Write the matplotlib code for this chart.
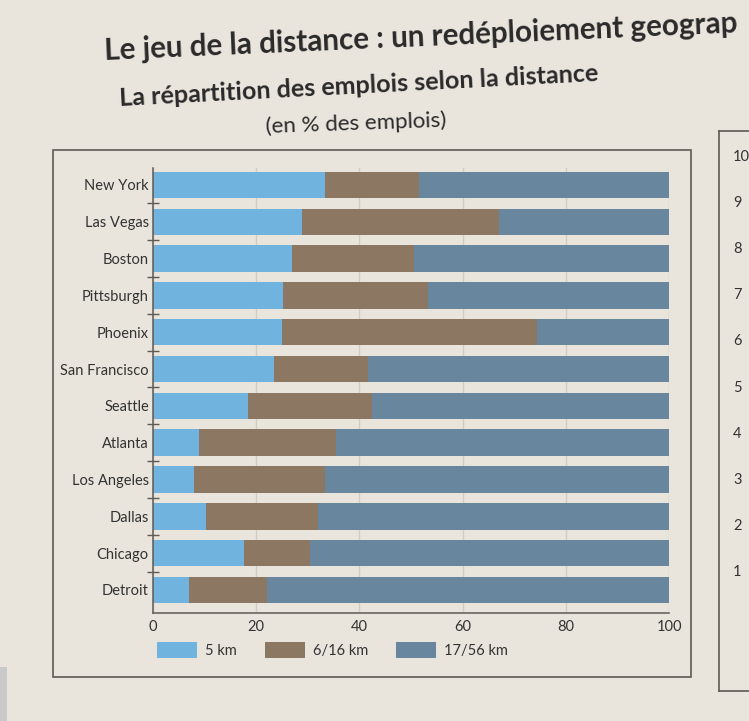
import matplotlib
matplotlib.use("Agg")
import matplotlib.pyplot as plt
import numpy as np
from matplotlib.patches import Rectangle
from matplotlib.lines import Line2D

plt.rcParams['font.family'] = ['Lato', 'DejaVu Sans']

# ---- data ----
cities = ["New York", "Las Vegas", "Boston", "Pittsburgh", "Phoenix",
          "San Francisco", "Seattle", "Atlanta", "Los Angeles", "Dallas",
          "Chicago", "Detroit"]
km_5 = [33.3, 28.9, 27.0, 25.2, 25.0, 23.4, 18.4, 9.0, 8.0, 10.3, 17.6, 7.0]
km_6_16 = [18.3, 38.1, 23.5, 28.0, 49.4, 18.3, 24.0, 26.5, 25.3, 21.7, 12.8, 15.0]
km_17_56 = [48.4, 33.0, 49.5, 46.8, 25.6, 58.3, 57.6, 64.5, 66.7, 68.0, 69.6, 78.0]
series_labels = ["5 km", "6/16 km", "17/56 km"]
x_ticks = [0, 20, 40, 60, 80, 100]
side_ticks = ["10", "9", "8", "7", "6", "5", "4", "3", "2", "1"]

title = "Le jeu de la distance : un redéploiement geograp"
subtitle = "La répartition des emplois selon la distance"
unit = "(en % des emplois)"

# ---- style ----
paper = "#e9e4dc"
colors = ["#6fb3de", "#8b7762", "#68879e"]
line_c = "#5e5a54"
text_c = "#333333"

W, H = 749, 721
fig = plt.figure(figsize=(W / 100, H / 100), dpi=100, facecolor=paper)
renderer = fig.canvas.get_renderer()


def fx(x):
    return x / W


def fy(y):
    return 1 - y / H


def fit_text(x, y, s, width_px, size, **kw):
    t = fig.text(fx(x), fy(y), s, fontsize=size, **kw)
    rot = kw.get("rotation", 0)
    t.set_rotation(0)
    w = t.get_window_extent(renderer).width
    t.set_fontsize(size * width_px / w)
    t.set_rotation(rot)
    return t


# photo edge block
fig.patches.append(Rectangle((0, fy(721)), fx(7), fy(667) - fy(721),
                             transform=fig.transFigure, facecolor="#c9c9c9",
                             edgecolor="none", zorder=0))

# frame around the chart
fig.patches.append(Rectangle((fx(53), fy(677)), fx(691) - fx(53), fy(150) - fy(677),
                             transform=fig.transFigure, facecolor="none",
                             edgecolor=line_c, linewidth=1.2, zorder=1))
# neighbouring (cut-off) chart frame
fig.lines.append(Line2D([fx(719), fx(719)], [fy(131), fy(691)], transform=fig.transFigure,
                        color=line_c, linewidth=1.2))
fig.lines.append(Line2D([fx(719), fx(749)], [fy(131), fy(131)], transform=fig.transFigure,
                        color=line_c, linewidth=1.2))
fig.lines.append(Line2D([fx(719), fx(749)], [fy(691), fy(691)], transform=fig.transFigure,
                        color=line_c, linewidth=1.2))
for i, t in enumerate(side_ticks):
    fig.text(fx(733), fy(157 + i * 46.1), t, ha="left", va="center",
             fontsize=10.5, color=text_c)

# titles
fit_text(105, 60, title, 636, 20, ha="left", va="baseline", fontweight="bold",
         color="#2a2a2a", rotation=2.5, rotation_mode="anchor")
fit_text(120, 106, subtitle, 480, 15, ha="left", va="baseline", fontweight="bold",
         color="#2a2a2a", rotation=3.0, rotation_mode="anchor")
fit_text(266, 133, unit, 180, 13, ha="left", va="baseline",
         color="#2a2a2a", rotation=2.0, rotation_mode="anchor")

# ---- axes ----
ax = fig.add_axes([fx(153), fy(613), fx(669) - fx(153), fy(168) - fy(613)])
ax.set_facecolor("none")
y = np.arange(len(cities))
left = np.zeros(len(cities))
for vals, c, lab in zip([km_5, km_6_16, km_17_56], colors, series_labels):
    ax.barh(y, vals, left=left, height=0.72, color=c, label=lab, zorder=2)
    left = left + np.array(vals)

ax.set_xlim(0, 100)
ax.set_ylim(len(cities) - 1 + 0.625, -0.46)
ax.set_xticks(x_ticks)
ax.set_xticklabels([str(v) for v in x_ticks])
ax.tick_params(axis="x", length=0, pad=5, labelsize=10.5, labelcolor=text_c)

ax.set_yticks(y[:-1] + 0.5)
ax.set_yticklabels([])
ax.tick_params(axis="y", which="major", direction="inout", length=9, width=1, color=line_c)
ax.set_yticks(y, minor=True)
ax.set_yticklabels(cities, minor=True)
ax.tick_params(axis="y", which="minor", length=0, pad=3, labelsize=10.5, labelcolor=text_c)

ax.xaxis.grid(True, color="#d2ccc3", linewidth=1.0, zorder=0)
ax.set_axisbelow(True)
for s in ["top", "right"]:
    ax.spines[s].set_visible(False)
for s in ["left", "bottom"]:
    ax.spines[s].set_color(line_c)
    ax.spines[s].set_linewidth(1.1)

handles, labels = ax.get_legend_handles_labels()
fig.legend(handles, labels, loc="upper left", bbox_to_anchor=(fx(157), fy(642)), ncol=3,
           frameon=False, handlelength=2.75, handleheight=1.35, handletextpad=0.55,
           columnspacing=1.9, borderpad=0, borderaxespad=0, fontsize=10.5,
           labelcolor=text_c)

fig.savefig("out.png", dpi=100, facecolor=paper)
